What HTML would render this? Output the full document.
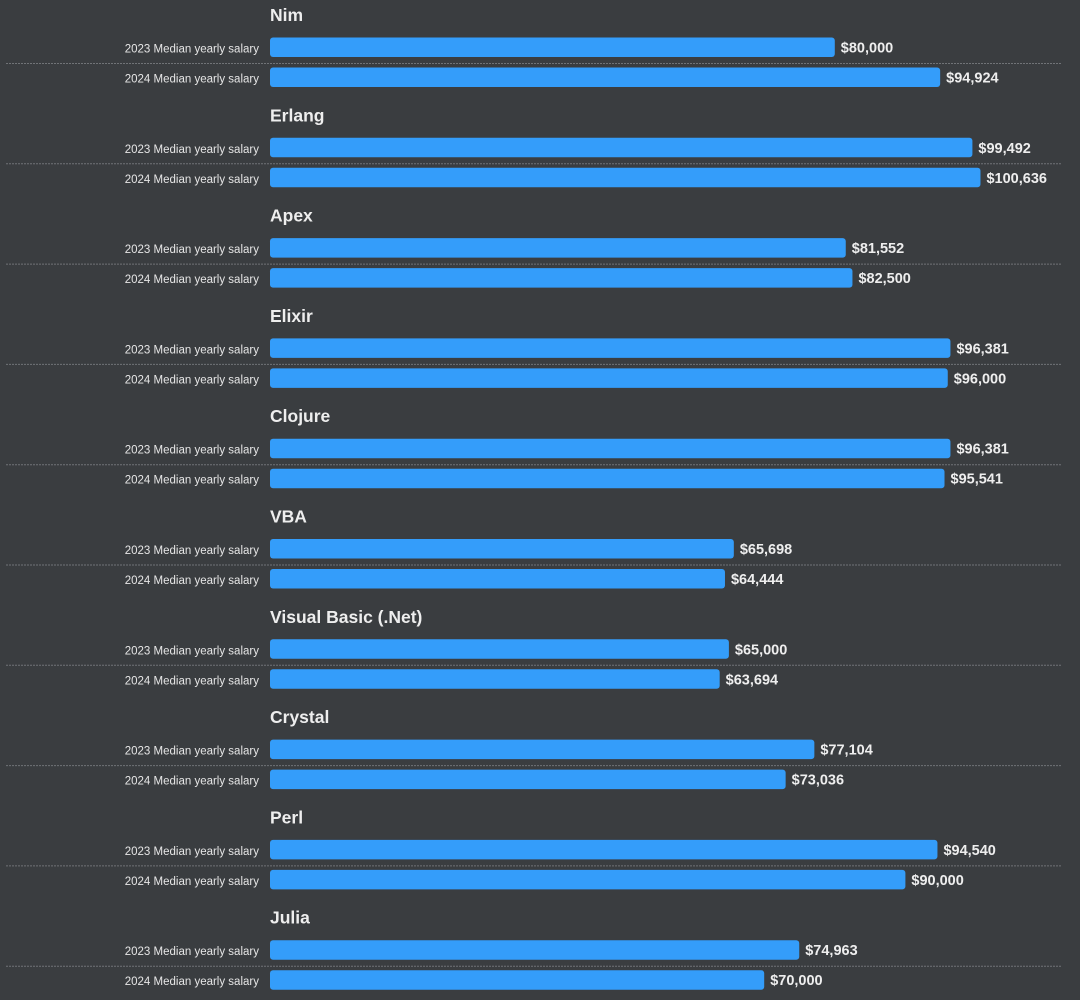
<!DOCTYPE html>
<html><head><meta charset="utf-8"><style>
html,body{margin:0;padding:0;background:#3a3d40;}
svg{display:block;font-family:"Liberation Sans",sans-serif;}
</style></head><body>
<svg id="chart" width="1080" height="1000"></svg>
<script>
const languages=["Nim","Erlang","Apex","Elixir","Clojure","VBA","Visual Basic (.Net)","Crystal","Perl","Julia"];
const salary2023=[80000,99492,81552,96381,96381,65698,65000,77104,94540,74963];
const salary2024=[94924,100636,82500,96000,95541,64444,63694,73036,90000,70000];
const seriesLabels=["2023 Median yearly salary","2024 Median yearly salary"];
const NS="http://www.w3.org/2000/svg";
const svg=document.getElementById('chart');
const x0=270, pxPer=0.00706, groupH=100.3;
const xScale=v=>v*pxPer;
function mk(tag,attrs,parent){const e=document.createElementNS(NS,tag);for(const k in attrs)e.setAttribute(k,attrs[k]);(parent||svg).appendChild(e);return e;}
const fmt=v=>"$"+v.toLocaleString("en-US");
languages.forEach((lang,i)=>{
  const g=mk('g',{});
  
  
  const y=i*groupH;
  const t=mk('text',{x:x0,y:y+21,fill:'#eeeeee','font-size':17.5,'font-weight':'bold'},g);
  t.textContent=lang;
  
  
  const sep=mk('line',{x1:6,x2:1062,y1:y+63.5,y2:y+63.5,stroke:'#707377','stroke-width':1,'stroke-dasharray':'2,1'},g);
  
  
  [salary2023[i],salary2024[i]].forEach((v,j)=>{
    const by=y+37.5+j*30;
    const lab=mk('text',{x:259,y:by+15,fill:'#e6e6e6','font-size':11.5,'text-anchor':'end'},g);
    lab.textContent=seriesLabels[j];
    
    
    const w=xScale(v);
    const r=mk('rect',{x:x0,y:by,width:w,height:19.5,rx:3,fill:'#349dfa'},g);
    
    
    const vl=mk('text',{x:x0+w+6,y:by+15,fill:'#eeeeee','font-size':14.5,'font-weight':'bold'},g);
    vl.textContent=fmt(v);
    
    
  });
});
</script>
</body></html>
